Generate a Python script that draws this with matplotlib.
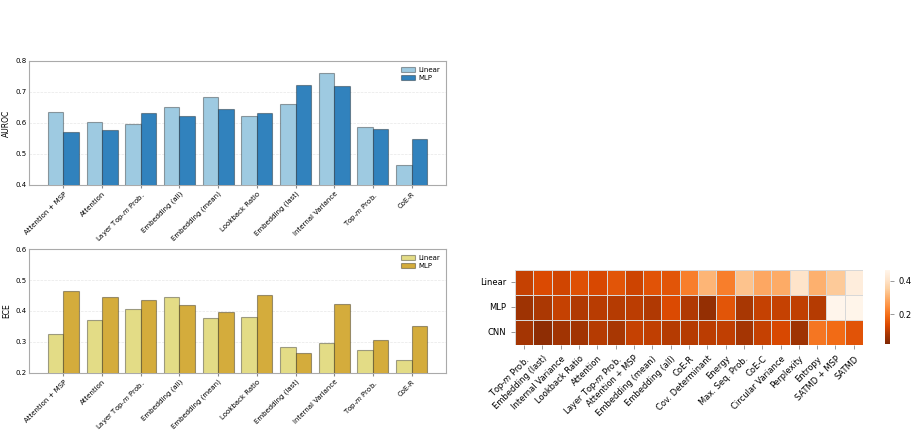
import matplotlib
matplotlib.use("Agg")
import matplotlib.pyplot as plt
import numpy as np
import seaborn as sns

bar_methods = ["Attention + MSP", "Attention", "Layer Top-$m$ Prob.", "Embedding (all)",
               "Embedding (mean)", "Lookback Ratio", "Embedding (last)", "Internal Variance",
               "Top-$m$ Prob.", "CoE-R"]
auroc_linear = [0.636, 0.602, 0.598, 0.653, 0.685, 0.621, 0.660, 0.760, 0.588, 0.464]
auroc_mlp = [0.572, 0.577, 0.631, 0.621, 0.646, 0.632, 0.723, 0.718, 0.579, 0.547]
ece_linear = [0.327, 0.372, 0.408, 0.446, 0.376, 0.382, 0.285, 0.298, 0.275, 0.243]
ece_mlp = [0.466, 0.445, 0.437, 0.420, 0.398, 0.450, 0.266, 0.424, 0.307, 0.353]

heat_rows = ["Linear", "MLP", "CNN"]
heat_cols = ["Top-$m$ Prob.", "Embedding (last)", "Internal Variance", "Lookback Ratio",
             "Attention", "Layer Top-$m$ Prob.", "Attention + MSP", "Embedding (mean)",
             "Embedding (all)", "CoE-R", "Cov. Determinant", "Energy", "Max. Seq. Prob.",
             "CoE-C", "Circular Variance", "Perplexity", "Entropy", "SATMD + MSP", "SATMD"]
heat_linear = [0.112, 0.139, 0.125, 0.147, 0.134, 0.156, 0.121, 0.152, 0.156, 0.222,
               0.311, 0.222, 0.333, 0.289, 0.293, 0.403, 0.302, 0.346, 0.434]
heat_mlp = [0.068, 0.086, 0.112, 0.090, 0.099, 0.095, 0.103, 0.090, 0.139, 0.090,
            0.055, 0.156, 0.081, 0.112, 0.112, 0.108, 0.095, 0.465, 0.462]
heat_cnn = [0.077, 0.046, 0.073, 0.073, 0.095, 0.081, 0.112, 0.108, 0.095, 0.095,
            0.103, 0.108, 0.077, 0.112, 0.134, 0.068, 0.209, 0.192, 0.152]

fig = plt.figure(figsize=(9.13, 4.32), dpi=100)
plt.rcParams['font.family'] = ['DejaVu Sans']

def bar_panel(rect, lin, mlp, c_lin, c_mlp, ylabel, ylim):
    ax = fig.add_axes(rect)
    x = np.arange(len(bar_methods))
    w = 0.4
    ec = (0, 0, 0, 0.35)
    ax.bar(x - w / 2, lin, w, color=c_lin, edgecolor=ec, linewidth=0.8, label="Linear", zorder=3)
    ax.bar(x + w / 2, mlp, w, color=c_mlp, edgecolor=ec, linewidth=0.8, label="MLP", zorder=3)
    ax.set_ylim(*ylim)
    ax.set_yticks(np.arange(ylim[0], ylim[1] + 0.001, 0.1))
    ax.set_xticks(x)
    ax.set_xticklabels(bar_methods, rotation=45, ha="right", fontsize=5, rotation_mode="anchor")
    ax.tick_params(axis="y", labelsize=5, length=0, pad=2)
    ax.tick_params(axis="x", length=2, color="#888888", pad=2)
    ax.set_ylabel(ylabel, fontsize=5.5, labelpad=3)
    ax.yaxis.grid(True, linestyle="--", linewidth=0.5, alpha=0.3, zorder=0)
    for s in ax.spines.values():
        s.set_color("#aaaaaa")
        s.set_linewidth(0.8)
    ax.legend(loc="upper right", fontsize=5, frameon=False, borderaxespad=0.4,
              handlelength=2.0, handleheight=0.7, labelspacing=0.35, handletextpad=0.6)
    return ax

bar_panel([0.0318, 0.5718, 0.4567, 0.2870], auroc_linear, auroc_mlp,
          "#9ecae1", "#3182bd", "AUROC", (0.4, 0.8))
bar_panel([0.0318, 0.1366, 0.4567, 0.2870], ece_linear, ece_mlp,
          "#e3dc86", "#d4ac3c", "ECE", (0.2, 0.6))

hax = fig.add_axes([0.564, 0.2014, 0.3812, 0.1736])
cax = fig.add_axes([0.9693, 0.2037, 0.0050, 0.1713])
data = np.array([heat_linear, heat_mlp, heat_cnn])
sns.heatmap(data, ax=hax, cbar_ax=cax, cmap="Oranges_r", vmin=0.024, vmax=0.465,
            linewidths=0.6, linecolor="#d8d8d8", xticklabels=heat_cols, yticklabels=heat_rows)
hax.set_xticklabels(heat_cols, rotation=45, ha="right", fontsize=6, rotation_mode="anchor")
hax.set_yticklabels(heat_rows, rotation=0, fontsize=6)
hax.tick_params(axis="both", length=3, color="#888888", width=0.6)
cax.set_yticks([0.2, 0.4])
cax.tick_params(labelsize=6, length=3, color="#888888", width=0.6)
cax.set_frame_on(False)

fig.savefig("out.png", dpi=100)
